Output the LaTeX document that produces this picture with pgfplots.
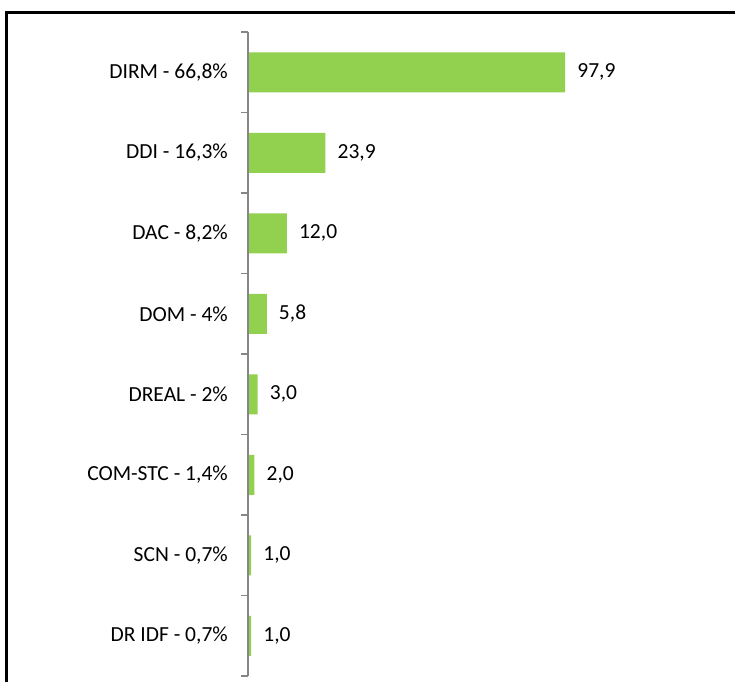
\documentclass[border=0pt]{standalone}
\usepackage{fontspec}
\setmainfont{Carlito}
\usepackage{pgfplots}
\pgfplotsset{compat=1.18}
\definecolor{bargreen}{HTML}{92D050}
\definecolor{axisgray}{HTML}{868686}
\newcommand{\lblfont}{\fontsize{21.5}{26}\selectfont}
\begin{document}
\begin{tikzpicture}
\path[use as bounding box] (0,0) rectangle (735pt,682pt);
\begin{axis}[
  at={(248pt,6pt)}, anchor=south west,
  scale only axis, width=486pt, height=644pt,
  xbar, bar width=40pt,
  xmin=0, xmax=150,
  ymin=-0.5, ymax=7.5, y dir=reverse,
  axis x line=none,
  axis y line*=left,
  axis on top,
  every outer y axis line/.append style={draw=axisgray, line width=2.2pt},
  ytick={0,...,7},
  yticklabels={{DIRM - 66,8\%}, {DDI - 16,3\%}, {DAC - 8,2\%}, {DOM - 4\%},
    {DREAL - 2\%}, {COM-STC - 1,4\%}, {SCN - 0,7\%}, {DR IDF - 0,7\%}},
  major tick length=0pt,
  yticklabel style={font=\lblfont, inner sep=0pt, xshift=-20pt},
  extra y ticks={-0.5,0.5,...,7.5},
  extra y tick labels={},
  every extra y tick/.style={major tick length=7pt, tick align=outside,
    major tick style={draw=axisgray, line width=1.6pt}},
  point meta=x,
  nodes near coords={\pgfmathprintnumber[fixed, fixed zerofill, precision=1, use comma, assume math mode=true]{\pgfplotspointmeta}},
  nodes near coords style={font=\lblfont, anchor=west, inner sep=0pt, xshift=12pt},
]
\addplot[fill=bargreen, draw=none] coordinates {
(97.9,0)
(23.9,1)
(12.0,2)
(5.8,3)
(3.0,4)
(2.0,5)
(1.0,6)
(1.0,7)
};
\end{axis}
\draw[line width=3pt, black] (6.5pt,0) -- (6.5pt,669.5pt) -- (735pt,669.5pt);
\end{tikzpicture}
\end{document}
